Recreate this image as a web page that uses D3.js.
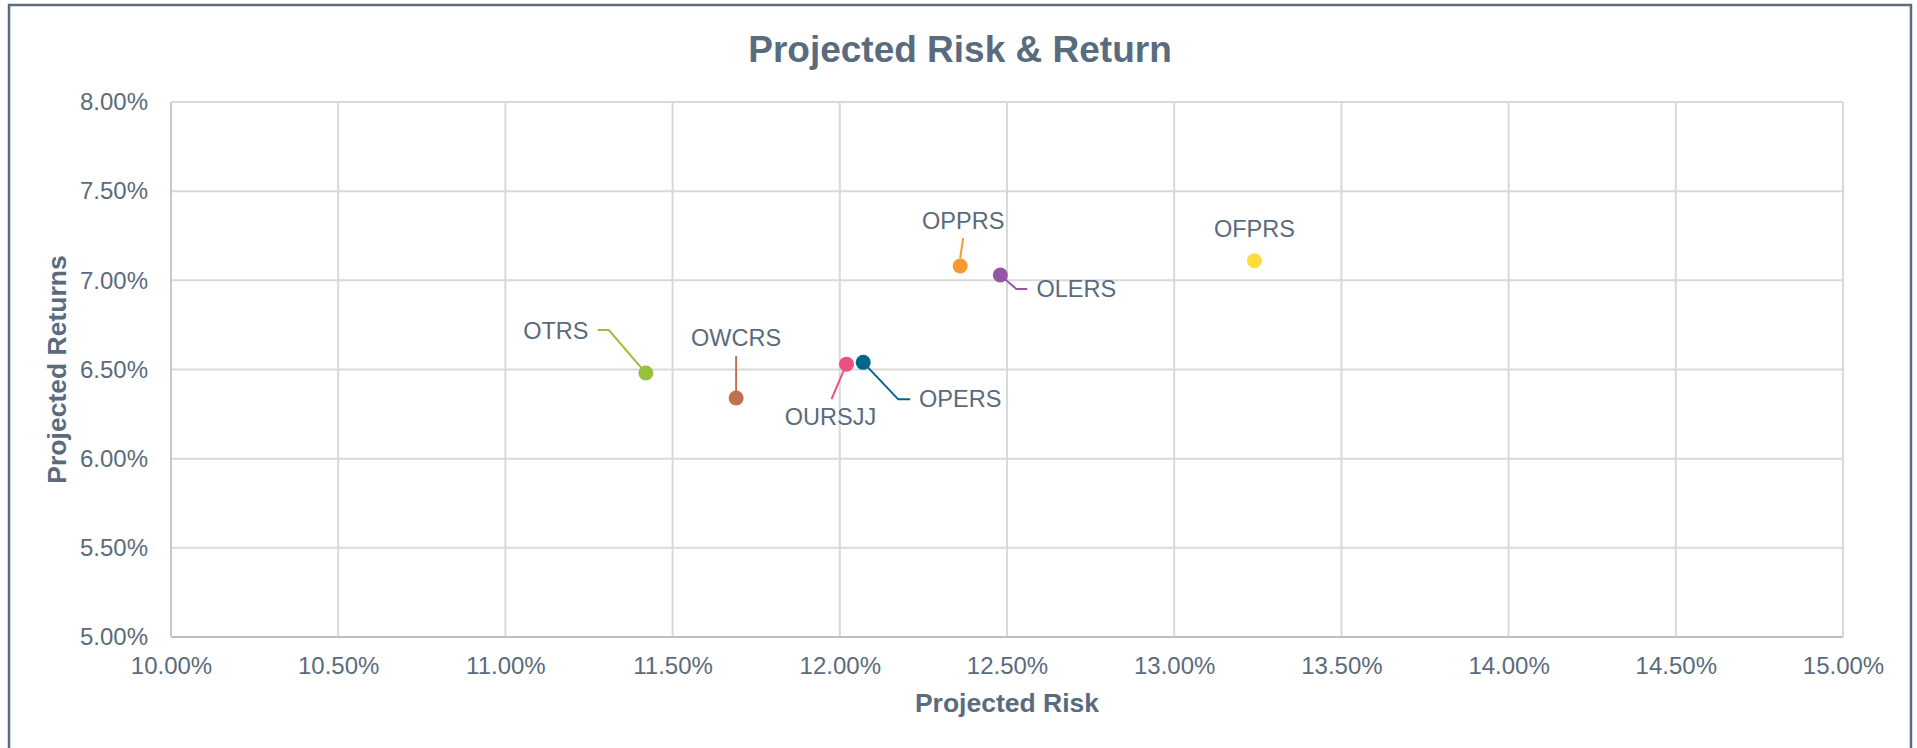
<!DOCTYPE html>
<html>
<head>
<meta charset="utf-8">
<script src="https://cdn.jsdelivr.net/npm/d3@7"></script>
<style>
  html, body { margin: 0; padding: 0; background: #fff; }
  svg { display: block; font-family: "Liberation Sans", Arial, sans-serif; }
</style>
</head>
<body>
<svg id="chart" width="1917" height="748"></svg>
<script>
// ---- data ----
const names   = ["OTRS", "OWCRS", "OURSJJ", "OPERS", "OPPRS", "OLERS", "OFPRS"];
const risk    = [0.1142, 0.1169, 0.1202, 0.1207, 0.1236, 0.1248, 0.1324];
const returns = [0.0648, 0.0634, 0.0653, 0.0654, 0.0708, 0.0703, 0.0711];
const colors  = ["#97c13c", "#bf7150", "#ea5082", "#00668c", "#f7992f", "#9556a5", "#fddc3c"];
const xTicks  = [0.10, 0.105, 0.11, 0.115, 0.12, 0.125, 0.13, 0.135, 0.14, 0.145, 0.15];
const yTicks  = [0.05, 0.055, 0.06, 0.065, 0.07, 0.075, 0.08];

// label layout (pixel offsets from point): text centre dx,dy and leader path points
const labelLayout = [
  { dx: -90, dy: -42, anchor: "middle", leader: [[0,0],[-37,-43],[-48,-43]] },
  { dx: 0,   dy: -60, anchor: "middle", leader: [[0,0],[0,-42]] },
  { dx: -16, dy: 53,  anchor: "middle", leader: [[0,0],[-15,35]] },
  { dx: 97,  dy: 37,  anchor: "middle", leader: [[0,0],[35,37],[47,37]] },
  { dx: 3,   dy: -45, anchor: "middle", leader: [[0,-8],[3,-28]] },
  { dx: 76,  dy: 14,  anchor: "middle", leader: [[0,0],[16,14],[27,14]] },
  { dx: 0,   dy: -32, anchor: "middle", leader: null }
];

const M = { left: 171, right: 1843, top: 102, bottom: 637 };
const textColor = "#596b7d";

const svg = d3.select("#chart");

// outer frame
svg.append("rect")
  .attr("x", 9).attr("y", 5).attr("width", 1902).attr("height", 760)
  .attr("fill", "#fff").attr("stroke", "#5b6b7d").attr("stroke-width", 2.5);

const x = d3.scaleLinear().domain([0.10, 0.15]).range([M.left, M.right]);
const y = d3.scaleLinear().domain([0.05, 0.08]).range([M.bottom, M.top]);
const fmt = d3.format(".2%");

// gridlines
const g = svg.append("g");
g.selectAll("line.vg").data(xTicks).join("line")
  .attr("x1", d => x(d)).attr("x2", d => x(d))
  .attr("y1", M.top).attr("y2", M.bottom)
  .attr("stroke", "#d9d9d9").attr("stroke-width", 2);
g.selectAll("line.hg").data(yTicks).join("line")
  .attr("x1", M.left).attr("x2", M.right)
  .attr("y1", d => y(d)).attr("y2", d => y(d))
  .attr("stroke", "#d9d9d9").attr("stroke-width", 2);
// axis lines
g.append("line").attr("x1", M.left).attr("x2", M.right).attr("y1", M.bottom).attr("y2", M.bottom)
  .attr("stroke", "#bfbfbf").attr("stroke-width", 2);
g.append("line").attr("x1", M.left).attr("x2", M.left).attr("y1", M.top).attr("y2", M.bottom)
  .attr("stroke", "#c8c8c8").attr("stroke-width", 2);

// axes via d3 axis (labels only)
const xAxis = svg.append("g").attr("transform", `translate(0,${M.bottom})`)
  .call(d3.axisBottom(x).tickValues(xTicks).tickFormat(fmt).tickSize(0).tickPadding(20));
const yAxis = svg.append("g").attr("transform", `translate(${M.left},0)`)
  .call(d3.axisLeft(y).tickValues(yTicks).tickFormat(fmt).tickSize(0).tickPadding(23));
[xAxis, yAxis].forEach(a => {
  a.select(".domain").remove();
  a.selectAll("text").attr("fill", textColor).style("font-size", "24px")
    .style("font-family", "'Liberation Sans', Arial, sans-serif");
});

// title
svg.append("text").attr("x", 960).attr("y", 62).attr("text-anchor", "middle")
  .attr("fill", textColor).style("font-size", "37px").style("font-weight", "bold")
  .text("Projected Risk & Return");

// axis titles
svg.append("text").attr("x", (M.left + M.right) / 2).attr("y", 712).attr("text-anchor", "middle")
  .attr("fill", textColor).style("font-size", "26.5px").style("font-weight", "bold")
  .text("Projected Risk");
svg.append("text").attr("transform", `translate(66,${(M.top + M.bottom) / 2}) rotate(-90)`)
  .attr("text-anchor", "middle")
  .attr("fill", textColor).style("font-size", "26.5px").style("font-weight", "bold")
  .text("Projected Returns");

// leaders
const pts = names.map((n, i) => ({ name: n, x: x(risk[i]), y: y(returns[i]), c: colors[i], L: labelLayout[i] }));
const line = d3.line();
svg.append("g").selectAll("path").data(pts.filter(p => p.L.leader)).join("path")
  .attr("d", p => line(p.L.leader.map(([dx, dy]) => [p.x + dx, p.y + dy])))
  .attr("fill", "none").attr("stroke", p => p.c).attr("stroke-width", 2);

// points
svg.append("g").selectAll("circle").data(pts).join("circle")
  .attr("cx", p => p.x).attr("cy", p => p.y).attr("r", 7.5)
  .attr("fill", p => p.c);

// labels
svg.append("g").selectAll("text").data(pts).join("text")
  .attr("x", p => p.x + p.L.dx).attr("y", p => p.y + p.L.dy)
  .attr("text-anchor", p => p.L.anchor).attr("dominant-baseline", "central")
  .attr("fill", textColor).style("font-size", "23.5px")
  .text(p => p.name);
</script>
</body>
</html>
